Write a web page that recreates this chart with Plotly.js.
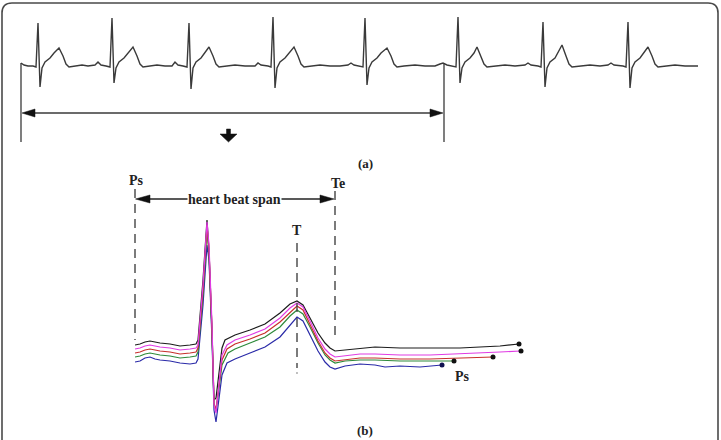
<!DOCTYPE html>
<html><head><meta charset="utf-8">
<script src="https://cdn.plot.ly/plotly-3.0.1.min.js"></script>
<style>html,body{margin:0;padding:0;background:#fff}#chart{width:721px;height:440px}</style>
</head><body><div id="chart"></div>
<script>
// (a) long ECG record: sample index, amplitude (a.u.)
const ecgSample = [21,24,28,33,36,38,40,42,45,50,54,59,63,66,69,75,
  82,88,95,98,101,106,110,112,114,116,119,124,128,133,137,140,143,
  150,157,165,172,175,178,183,187,189,191,193,196,201,205,209,213,216,219,
  226,235,245,255,258,261,268,271,273,275,277,280,285,289,294,298,301,304,
  311,320,330,340,348,351,354,360,363,365,367,369,372,377,381,387,391,394,397,
  404,415,425,435,440,443,447,453,456,458,460,462,465,470,474,477,481,484,487,
  494,505,515,525,528,531,538,541,543,545,547,550,555,558,562,566,569,572,
  579,590,600,608,611,614,623,626,628,630,632,635,640,644,648,652,655,658,
  665,675,685,698];
const ecgAmp = [3,1,0,0,-1,43,-21,-2,4,8,13,18,10,2,-1,0,
  1,0,1,4,1,0,-1,48,-17,-2,4,8,13,19,10,2,-1,
  0,1,0,0,4,1,0,-1,43,-23,-2,4,8,13,19,10,2,-1,
  0,1,0,0,3,1,0,-1,49,-22,-2,4,8,13,19,10,2,-1,
  0,1,0,0,1,3,1,0,-1,48,-19,-2,4,8,13,18,10,2,-1,
  0,1,0,0,2,3,1,0,-1,49,-17,-2,4,8,13,19,10,2,-1,
  0,1,0,1,3,1,0,-1,44,-21,-2,4,8,13,21,10,2,-1,
  0,1,0,1,3,1,0,-1,44,-22,-2,4,8,13,19,10,2,-1,
  0,1,0,0];

// (b) overlaid heart beats: time from Ps (samples), amplitude (a.u.)
const beatNames = ["beat 1","beat 2","beat 3","beat 4","beat 5"];
const t1 = [0,5,10,15,20,25,35,45,55,61,63,68,72,74,77,79,81,84,87,90,100,115,130,145,155,162,168,175,183,190,195,200,210,225,240,265,295,325,345,365,384];
const a1 = [0,1,3,4,3,2,1,-1,0,1,5,65,125,95,15,-55,-53,-25,-3,5,10,15,21,32,41,44,40,27,12,2,-3,-6,-5,-3,-2,-3,-3,-3,-2,-1,1];
const t2 = [0,5,10,15,20,25,35,45,55,61,63,68,72,74,77,79,81,84,87,92,100,115,130,145,155,162,168,175,183,190,195,200,210,225,240,265,295,325,345,365,386];
const a2 = [-4,-3,-1,0,-1,-2,-3,-5,-4,-3,0,60,123,100,20,-60,-68,-35,-10,0,5,10,16,27,37,42,38,24,7,-4,-9,-12,-11,-9,-9,-10,-10,-9,-8,-7,-6];
const t3 = [0,5,10,15,20,25,35,45,55,61,63,68,72,74,77,79,81,84,87,92,100,115,130,145,155,162,168,175,183,190,195,200,210,225,240,265,295,325,345,358];
const a3 = [-8,-7,-5,-4,-5,-6,-7,-9,-8,-7,-3,55,120,95,15,-58,-65,-40,-15,-4,1,6,12,23,33,39,35,21,4,-8,-13,-16,-15,-13,-13,-14,-14,-13,-12,-12];
const t4 = [0,5,10,15,20,25,35,45,55,61,63,68,72,74,77,79,81,84,87,93,100,115,130,145,155,162,168,175,183,190,195,200,210,225,240,265,295,319];
const a4 = [-12,-11,-9,-8,-9,-10,-11,-13,-12,-11,-7,50,115,90,10,-60,-66,-45,-20,-8,-4,2,8,18,29,35,31,18,2,-10,-15,-18,-16,-15,-15,-16,-16,-16];
const t5 = [0,5,10,15,20,25,35,45,55,61,63,68,72,74,77,79,81,84,87,92,97,100,115,130,145,155,162,168,175,183,190,195,200,210,225,240,250,265,285,307];
const a5 = [-17,-16,-13,-12,-14,-15,-16,-18,-19,-18,-14,40,100,85,5,-65,-77,-55,-30,-18,-15,-14,-8,-2,8,20,28,24,10,-6,-17,-22,-24,-21,-19,-20,-22,-21,-22,-20];
const beatColors = ["#1c1c1c","#e03ce4","#c8302c","#2e8a3a","#2a2aa8"];

const W = 721, H = 440;
const px = x => x / W, py = y => 1 - y / H;
const P = (x, y) => px(x) + "," + py(y);

const beats = [[t1,a1],[t2,a2],[t3,a3],[t4,a4],[t5,a5]];
const order = [0,4,3,2,1];
const data = [{
  x: ecgSample, y: ecgAmp, type: "scatter", mode: "lines", xaxis: "x", yaxis: "y",
  line: {color: "#3a3a3a", width: 1.4}, hoverinfo: "skip", showlegend: false
}];
order.forEach(i => {
  data.push({x: beats[i][0], y: beats[i][1], name: beatNames[i], type: "scatter", mode: "lines",
    xaxis: "x2", yaxis: "y2", line: {color: beatColors[i], width: 1.2}, showlegend: false});
});
order.forEach(i => {
  const t = beats[i][0], a = beats[i][1];
  data.push({x: [t[t.length-1]], y: [a[a.length-1]], type: "scatter", mode: "markers",
    xaxis: "x2", yaxis: "y2", marker: {color: i === 4 ? "#101050" : "#111", size: 5}, showlegend: false});
});

const lineCol = "#3a3a3a";
const shapes = [
  // frame
  {type: "path", xref: "paper", yref: "paper",
   path: "M" + P(2,470) + " L" + P(2,13) + " Q" + P(2,3) + " " + P(12,3) + " L" + P(708,3) +
         " Q" + P(718,3) + " " + P(718,13) + " L" + P(718,470),
   line: {color: "#4a4a4a", width: 1.6}},
  // (a) bracket
  {type: "line", xref: "paper", yref: "paper", x0: px(21), x1: px(21), y0: py(63), y1: py(142), line: {color: lineCol, width: 1.3}},
  {type: "line", xref: "paper", yref: "paper", x0: px(444), x1: px(444), y0: py(63), y1: py(142), line: {color: lineCol, width: 1.3}},
  {type: "line", xref: "paper", yref: "paper", x0: px(30), x1: px(435), y0: py(113), y1: py(113), line: {color: lineCol, width: 1.3}},
  {type: "path", xref: "paper", yref: "paper", path: "M" + P(22,113) + " L" + P(35,109) + " L" + P(35,117) + " Z",
   fillcolor: "#111", line: {color: "#111", width: 0.5}},
  {type: "path", xref: "paper", yref: "paper", path: "M" + P(443,113) + " L" + P(430,109) + " L" + P(430,117) + " Z",
   fillcolor: "#111", line: {color: "#111", width: 0.5}},
  // down arrow
  {type: "path", xref: "paper", yref: "paper",
   path: "M" + P(226.5,129) + " L" + P(230.5,129) + " L" + P(230.5,134) + " L" + P(237,134) + " L" + P(228.5,142) +
         " L" + P(220,134) + " L" + P(226.5,134) + " Z", fillcolor: "#111", line: {color: "#111", width: 0.5}},
  // (b) dashed markers
  {type: "line", xref: "paper", yref: "paper", x0: px(135), x1: px(135), y0: py(189), y1: py(340), line: {color: "#444", width: 1.4, dash: "9px,6px"}},
  {type: "line", xref: "paper", yref: "paper", x0: px(335), x1: px(335), y0: py(191), y1: py(338), line: {color: "#444", width: 1.4, dash: "9px,6px"}},
  {type: "line", xref: "paper", yref: "paper", x0: px(297), x1: px(297), y0: py(243), y1: py(368), line: {color: "#444", width: 1.4, dash: "9px,6px"}},
  {type: "circle", xref: "paper", yref: "paper", x0: px(296.3), x1: px(297.7), y0: py(373.7), y1: py(372.3), fillcolor: "#555", line: {width: 0}},
  // heart beat span arrow
  {type: "line", xref: "paper", yref: "paper", x0: px(140), x1: px(330), y0: py(199), y1: py(199), line: {color: "#222", width: 1.3}},
  {type: "path", xref: "paper", yref: "paper", path: "M" + P(135.5,199) + " L" + P(150,195) + " L" + P(150,203) + " Z",
   fillcolor: "#111", line: {color: "#111", width: 0.5}},
  {type: "path", xref: "paper", yref: "paper", path: "M" + P(334,199) + " L" + P(320,195) + " L" + P(320,203) + " Z",
   fillcolor: "#111", line: {color: "#111", width: 0.5}}
];

const lab = (text, x, y, size, extra) => Object.assign({
  text: text, xref: "paper", yref: "paper", x: px(x), y: py(y), xanchor: "center", yanchor: "middle",
  showarrow: false, font: {family: "Liberation Serif", size: size, color: "#222"}
}, extra || {});

const annotations = [
  lab("<b>(a)</b>", 365, 163, 13),
  lab("<b>(b)</b>", 365, 430, 13),
  lab("<b>Ps</b>", 136, 180, 14),
  lab("<b>Te</b>", 338, 183, 14),
  lab("<b>T</b>", 297, 230, 14),
  lab("<b>Ps</b>", 462, 376, 14),
  lab("<b>heart beat span</b>", 234, 199, 14, {bgcolor: "#ffffff", borderpad: 0})
];

const ax = {showgrid: false, zeroline: false, showticklabels: false, ticks: "", showline: false, fixedrange: true};
const layout = {
  width: W, height: H, autosize: false,
  margin: {l: 0, r: 0, t: 0, b: 0, pad: 0},
  paper_bgcolor: "#fff", plot_bgcolor: "rgba(0,0,0,0)",
  xaxis: Object.assign({domain: [0,1], range: [0, 721]}, ax),
  yaxis: Object.assign({domain: [0,1], range: [-374, 66]}, ax),
  xaxis2: Object.assign({domain: [0,1], range: [-135, 586], overlaying: "x", anchor: "y2"}, ax),
  yaxis2: Object.assign({domain: [0,1], range: [-95, 345], overlaying: "y", anchor: "x2"}, ax),
  shapes: shapes, annotations: annotations, showlegend: false, hovermode: false
};
Plotly.newPlot("chart", data, layout, {displayModeBar: false, staticPlot: true});
</script></body></html>
